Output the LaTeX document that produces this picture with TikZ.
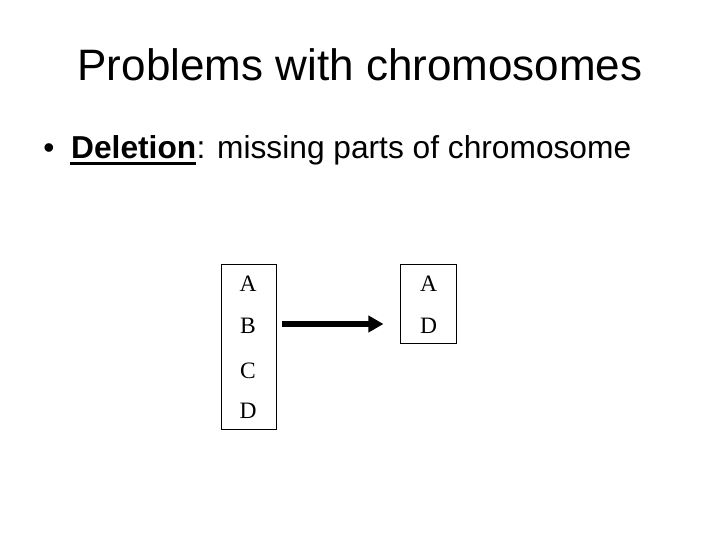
\documentclass[tikz,border=0pt]{standalone}
\usepackage{fontspec}
\setmainfont{Liberation Sans}
\newfontfamily\letterfont{Liberation Serif}
\usetikzlibrary{arrows.meta,calc}
\begin{document}
\begin{tikzpicture}[x=1pt,y=-1pt,
  titletext/.style={inner sep=0pt,anchor=base,font=\fontsize{44}{48}\selectfont},
  bodytext/.style={inner sep=0pt,anchor=base west,font=\fontsize{31.7}{36}\selectfont},
  chromobox/.style={draw,line width=1pt,inner sep=0pt},
  gene/.style={inner sep=0pt,anchor=base,font=\letterfont\fontsize{23.5}{26}\selectfont},
  bigarrow/.style={line width=6pt,-{Triangle[length=15pt,width=16pt]}}]
\useasboundingbox (0,0) rectangle (720,540);
\fill[white] (0,0) rectangle (720,540);
% title
\node[titletext] (title) at (360,81) {Problems with chromosomes};
% bullet line
\node[bodytext,anchor=base] (bullet) at (49,159) {•};
\node[bodytext] (del) at (71,159) {\textbf{Deletion}};
\node[bodytext] (rest) at (del.base east) {: missing parts of chromosome};
\draw[line width=2.5pt] ($(del.base west)+(-1,4.5)$) -- ($(del.base east)+(0,4.5)$);
% boxes
\node[chromobox,minimum width=55pt,minimum height=165pt] (lbox) at (249.2,346.8) {};
\node[chromobox,minimum width=55.5pt,minimum height=79pt] (rbox) at (428.7,303.7) {};
% genes
\node[gene] (lA) at (248,291.5) {A};
\node[gene] (lB) at (248,333) {B};
\node[gene] (lC) at (248,378) {C};
\node[gene] (lD) at (248,418.5) {D};
\node[gene] (rA) at (428.5,291.5) {A};
\node[gene] (rD) at (428.5,333) {D};
% arrow
\coordinate (arrowy) at (0,324);
\draw[bigarrow] ([xshift=5pt]lbox.east |- arrowy) -- ([xshift=-17pt]rbox.west |- arrowy);
\end{tikzpicture}
\end{document}
